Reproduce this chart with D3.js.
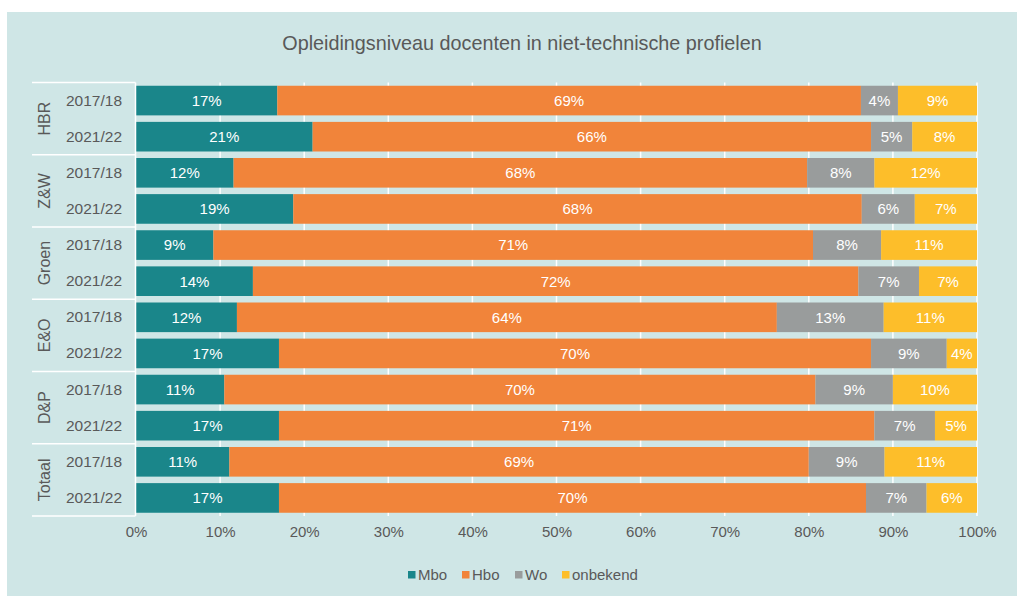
<!DOCTYPE html>
<html>
<head>
<meta charset="utf-8">
<script src="https://cdn.jsdelivr.net/npm/d3@7"></script>
<style>
html,body{margin:0;padding:0;background:#ffffff;}
svg{display:block;font-family:"Liberation Sans",Arial,sans-serif;}
</style>
</head>
<body>
<svg id="chart" width="1017" height="596"></svg>
<script>
const title = "Opleidingsniveau docenten in niet-technische profielen";
const groups = ["HBR", "Z&W", "Groen", "E&O", "D&P", "Totaal"];
const years = ["2017/18", "2021/22"];
const seriesNames = ["Mbo", "Hbo", "Wo", "onbekend"];
const mbo =      [16.8, 21.0, 11.6, 18.7,  9.2, 13.9, 12.0, 17.0, 10.5, 17.0, 11.1, 17.0];
const hbo =      [69.4, 66.4, 68.2, 67.6, 71.3, 72.0, 64.2, 70.4, 70.3, 70.8, 68.9, 69.8];
const wo =       [ 4.4,  4.9,  8.0,  6.3,  8.1,  7.2, 12.7,  9.0,  9.2,  7.2,  9.0,  7.2];
const onbekend = [ 9.4,  7.7, 12.2,  7.4, 11.4,  6.9, 11.1,  3.6, 10.0,  5.0, 11.0,  6.0];
const xTicks = [0, 10, 20, 30, 40, 50, 60, 70, 80, 90, 100];

const colors = ["#1a868a", "#f1843a", "#999c9c", "#fdbe2a"];
const textColor = "#595959";

const rows = [];
groups.forEach((g, gi) => years.forEach((y, yi) => {
  const i = gi * years.length + yi;
  rows.push({id: i, group: g, year: y, Mbo: mbo[i], Hbo: hbo[i], Wo: wo[i], onbekend: onbekend[i]});
}));

const svg = d3.select("#chart");
svg.append("rect").attr("x", 7).attr("y", 12).attr("width", 1010).attr("height", 584).attr("fill", "#cfe6e6");

const x = d3.scaleLinear().domain([0, 100]).range([136, 977]);
const y = d3.scaleBand().domain(rows.map(r => r.id)).range([82.5, 516]).paddingInner(0.18).paddingOuter(0.09);
const color = d3.scaleOrdinal().domain(seriesNames).range(colors);

// title
svg.append("text").attr("x", 522).attr("y", 50).attr("text-anchor", "middle")
  .attr("font-size", 19.8).attr("fill", textColor).text(title);

// gridlines
svg.append("g").selectAll("line").data(xTicks.filter(t => t > 0)).join("line")
  .attr("x1", d => x(d)).attr("x2", d => x(d))
  .attr("y1", 82.5).attr("y2", 516)
  .attr("stroke", "#ffffff").attr("stroke-width", 1.5);

// bars
const stacked = d3.stack().keys(seriesNames)(rows);
const layer = svg.append("g").selectAll("g").data(stacked).join("g").attr("fill", d => color(d.key));
layer.selectAll("rect").data(d => d).join("rect")
  .attr("x", d => x(d[0])).attr("width", d => x(d[1]) - x(d[0]))
  .attr("y", d => y(d.data.id)).attr("height", y.bandwidth());

// bar labels
const labels = svg.append("g").attr("font-size", 15).attr("fill", "#ffffff").attr("text-anchor", "middle");
stacked.forEach(s => {
  labels.selectAll(null).data(s).join("text")
    .attr("x", d => (x(d[0]) + x(d[1])) / 2)
    .attr("y", d => y(d.data.id) + y.bandwidth() / 2)
    .attr("dy", "0.36em")
    .text(d => Math.round(d[1] - d[0]) + "%");
});

// x axis labels
const xAxis = d3.axisBottom(x).tickValues(xTicks).tickFormat(d => d + "%").tickSize(0).tickPadding(0);
const xg = svg.append("g").attr("transform", "translate(0,526)").call(xAxis);
xg.select(".domain").remove();
xg.selectAll("text").attr("font-size", 15).attr("fill", textColor).attr("font-family", "Liberation Sans, Arial, sans-serif").attr("dy", "0.71em");

// left axis: year labels
const yAxis = d3.axisLeft(y).tickFormat(i => rows[i].year).tickSize(0).tickPadding(0);
const yg = svg.append("g").attr("transform", "translate(122,0)").call(yAxis);
yg.select(".domain").remove();
yg.selectAll("text").attr("font-size", 15.5).attr("fill", textColor).attr("font-family", "Liberation Sans, Arial, sans-serif");

// axis line and group separators
svg.append("line").attr("x1", 135.5).attr("x2", 135.5).attr("y1", 82.5).attr("y2", 516)
  .attr("stroke", "#ffffff").attr("stroke-width", 1.5);
const step = y.step();
const groupBounds = d3.range(groups.length + 1).map(k => 82.5 + k * step * years.length);
svg.append("g").selectAll("line").data(groupBounds).join("line")
  .attr("x1", 32).attr("x2", 135.5).attr("y1", d => d).attr("y2", d => d)
  .attr("stroke", "#ffffff").attr("stroke-width", 1.5);

// group labels
svg.append("g").selectAll("text").data(groups).join("text")
  .attr("transform", (g, k) => `translate(50,${(groupBounds[k] + groupBounds[k + 1]) / 2}) rotate(-90)`)
  .attr("text-anchor", "middle").attr("font-size", 16).attr("fill", textColor).text(d => d);

// legend
const legendX = [408, 462, 515, 562];
const leg = svg.append("g").selectAll("g").data(seriesNames).join("g")
  .attr("transform", (d, i) => `translate(${legendX[i]},571)`);
leg.append("rect").attr("width", 7.5).attr("height", 7.5).attr("fill", d => color(d));
leg.append("text").attr("x", 10).attr("y", 8.5).attr("font-size", 15).attr("fill", textColor).text(d => d);
</script>
</body>
</html>
